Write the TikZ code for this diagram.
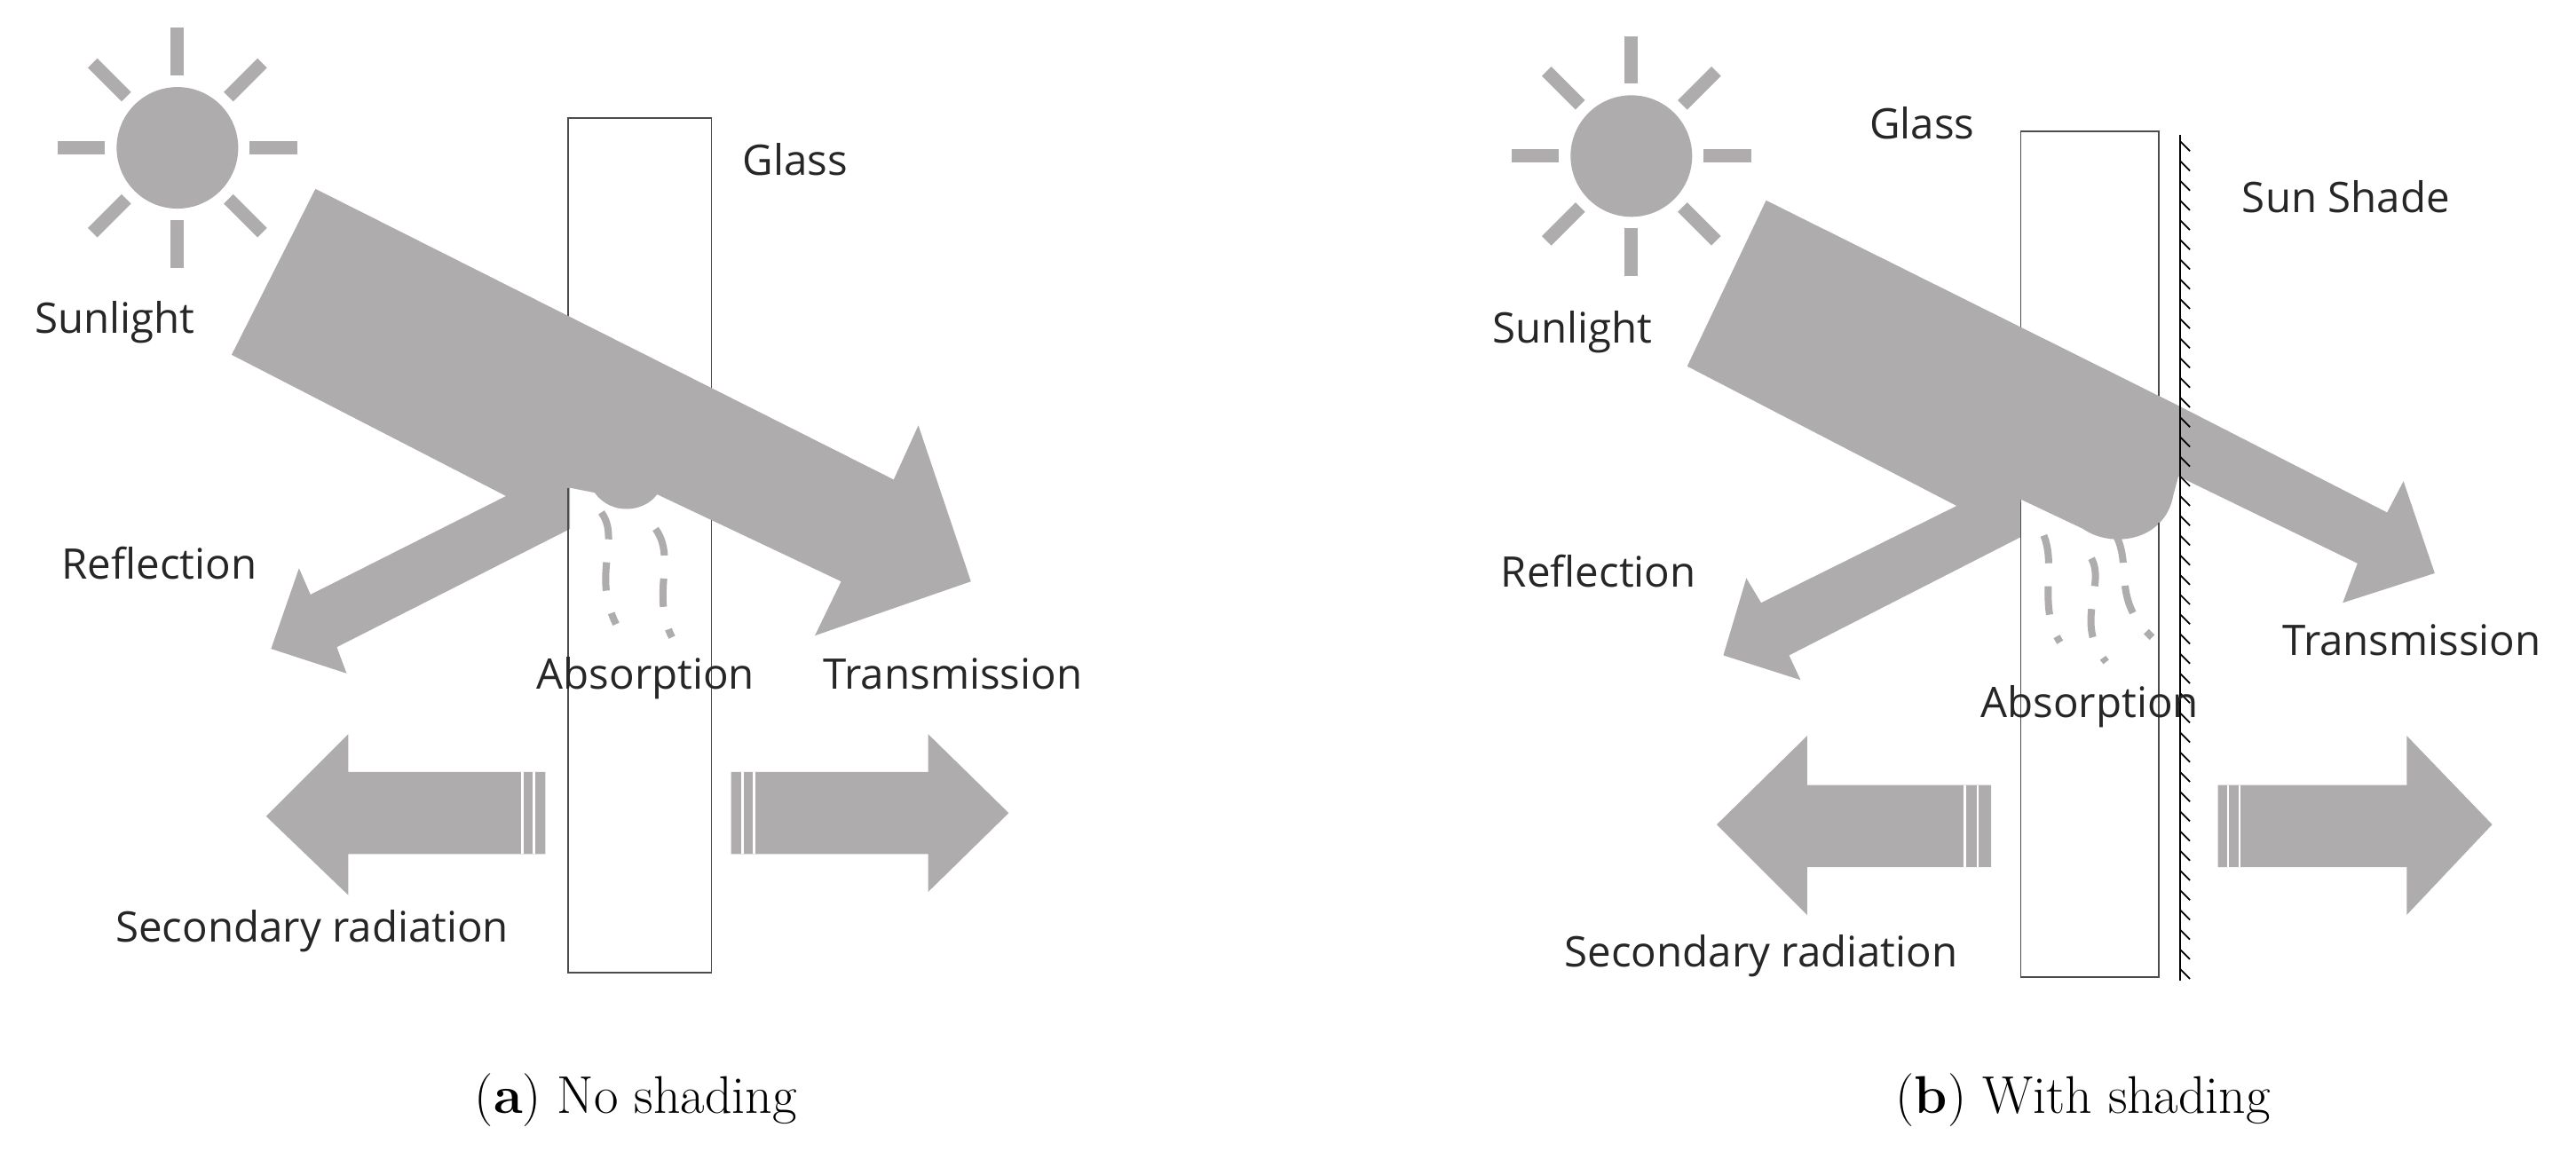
\documentclass[tikz,border=0pt]{standalone}
\usepackage{fontspec}
\usetikzlibrary{calc}
\setmainfont{Open Sans}
\newfontfamily\capfont{Latin Modern Roman}
\definecolor{beam}{HTML}{AEACAC}
\begin{document}
\begin{tikzpicture}[x=0.01851cm,y=-0.01851cm,
  lbl/.style={font=\fontsize{13.5}{16}\selectfont, text=black!85, inner sep=0pt},
  captxt/.style={font=\capfont\fontsize{17}{20}\selectfont, inner sep=0pt},
  ray/.style={line width=1.5mm, draw=beam},
  glass/.style={draw=black!70, line width=0.5pt, fill=white},
  gline/.style={draw=black!70, line width=0.5pt},
  absd/.style={draw=beam, line width=0.8mm, dash pattern=on 3.2mm off 2.6mm},
  stripe/.style={draw=white, line width=0.6pt}]
\useasboundingbox (0,0) rectangle (1568,705.6);
% ================= (a) =================
\fill[beam] (108,90) circle (37);
\foreach \a in {0,45,...,315}
  \draw[ray] ($(108,90)+(\a:44)$) -- ($(108,90)+(\a:73)$);
\draw[glass] (346,72) rectangle (433,592);
\fill[beam] (192,115) -- (544,292) -- (559,259) -- (591,354) -- (496,387) -- (512,354) -- (400,301)
  .. controls (392,312) and (372,314) .. (362,300) -- (347,297) -- (347,322) -- (205,394) -- (211,410)
  -- (165,395) -- (182,346) -- (189,362) -- (308,302) -- (141,216) -- cycle;
\draw[gline] (346,297) -- (346,592) (433,317) -- (433,592);
\draw[absd] (366,312) .. controls (378,328) and (360,350) .. (375,380);
\draw[absd] (399,322) .. controls (412,340) and (396,362) .. (409,388);
% secondary radiation
\fill[beam] (332,470) -- (212,470) -- (212,447) -- (162,497) -- (212,545) -- (212,520) -- (332,520) -- cycle;
\draw[stripe] (318,470) -- (318,520) (325,470) -- (325,520);
\fill[beam] (445,470) -- (565,470) -- (565,447) -- (614,495) -- (565,543) -- (565,520) -- (445,520) -- cycle;
\draw[stripe] (452,470) -- (452,520) (459,470) -- (459,520);
\node[lbl] (glassA) at (484,97) {Glass};
\node[lbl] (sunA) at (70,196) {Sunlight};
\node[lbl] (refA) at (97,343) {Reflection};
\node[lbl] (absA) at (393,413) {Absorption};
\node[lbl] (traA) at (580,410) {Transmission};
\node[lbl] (secA) at (190,567) {Secondary radiation};
\node[captxt] (capA) at (387,670) {(\textbf{a}) No shading};
% ================= (b) =================
\fill[beam] (993,95) circle (37);
\foreach \a in {0,45,...,315}
  \draw[ray] ($(993,95)+(\a:44)$) -- ($(993,95)+(\a:73)$);
\draw[glass] (1230,80) rectangle (1314,595);
\fill[beam] (1075,122) -- (1326,247) -- (1453,312) -- (1463,293) -- (1482,349) -- (1426,367) -- (1435,343)
  -- (1326,290) -- (1323,301) .. controls (1318,330) and (1285,334) .. (1268,322) -- (1230,304) -- (1230,327)
  -- (1089,399) -- (1096,414) -- (1049,399) -- (1063,352) -- (1072,367) -- (1191,308) -- (1027,223) -- cycle;
\draw[gline] (1230,306) -- (1230,595) (1314,318) -- (1314,595);
\draw[draw=black, line width=0.7pt] (1327,82) -- (1327,597);
\foreach \y in {86,98,...,590}
  \draw[draw=black, line width=0.5pt] (1327,\y) -- (1333,\y+6);
\draw[absd] (1244,326) .. controls (1252,345) and (1240,370) .. (1254,391);
\draw[absd] (1273,340) .. controls (1282,356) and (1262,380) .. (1282,403);
\draw[absd] (1288,326) .. controls (1298,345) and (1285,365) .. (1310,388);
\fill[beam] (1212,478) -- (1100,478) -- (1100,448) -- (1045,502) -- (1100,557) -- (1100,528) -- (1212,528) -- cycle;
\draw[stripe] (1196,478) -- (1196,528) (1204,478) -- (1204,528);
\fill[beam] (1350,478) -- (1465,478) -- (1465,448) -- (1517,502) -- (1465,557) -- (1465,528) -- (1350,528) -- cycle;
\draw[stripe] (1356,478) -- (1356,528) (1363,478) -- (1363,528);
\node[lbl] (glassB) at (1170,75) {Glass};
\node[lbl] (shadeB) at (1428,120) {Sun Shade};
\node[lbl] (sunB) at (957,202) {Sunlight};
\node[lbl] (refB) at (973,348) {Reflection};
\node[lbl] (absB) at (1272,430) {Absorption};
\node[lbl] (traB) at (1468,390) {Transmission};
\node[lbl] (secB) at (1072,582) {Secondary radiation};
\node[captxt] (capB) at (1268,670) {(\textbf{b}) With shading};
\end{tikzpicture}
\end{document}
